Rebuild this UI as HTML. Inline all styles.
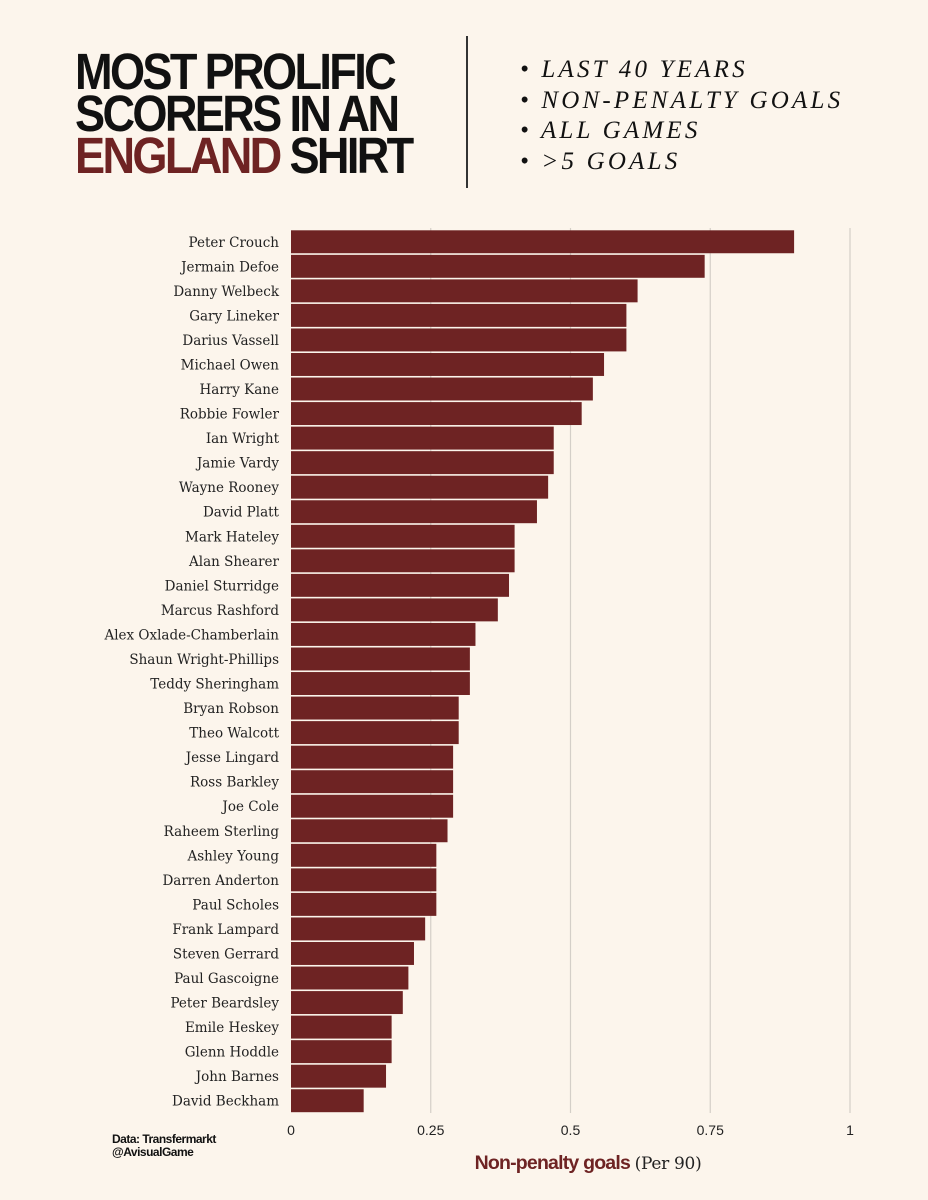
<!DOCTYPE html>
<html><head><meta charset="utf-8"><style>
body{margin:0;background:#fcf5ec;width:928px;height:1200px;overflow:hidden;position:relative;font-family:"Liberation Serif",serif}
.t{position:absolute;left:75px;top:51px;font-family:"Liberation Sans",sans-serif;font-weight:bold;font-size:51px;line-height:42px;letter-spacing:-3px;color:#111;transform:scaleX(0.885);transform-origin:left top}
.t span{color:#6e2323}
.div{position:absolute;left:466px;top:36px;width:2px;height:152px;background:#333}
.bl{position:absolute;left:520px;top:55px;font-family:"Liberation Serif",serif;font-style:italic;font-size:25px;line-height:30.5px;letter-spacing:3.2px;color:#111}
.src{position:absolute;left:112px;top:1133px;font-family:"Liberation Sans",sans-serif;font-weight:bold;font-size:12px;line-height:13px;letter-spacing:-0.5px;color:#111}
</style></head><body>
<div class="t">MOST PROLIFIC<br>SCORERS IN AN<br><span>ENGLAND</span> SHIRT</div>
<div class="div"></div>
<div class="bl">• LAST 40 YEARS<br>• NON-PENALTY GOALS<br>• ALL GAMES<br>• &gt;5 GOALS</div>
<div class="src">Data: Transfermarkt<br>@AvisualGame</div>
<svg id="c" width="928" height="1200" style="position:absolute;left:0;top:0"></svg>
<script>
const players=["Peter Crouch","Jermain Defoe","Danny Welbeck","Gary Lineker","Darius Vassell","Michael Owen","Harry Kane","Robbie Fowler","Ian Wright","Jamie Vardy","Wayne Rooney","David Platt","Mark Hateley","Alan Shearer","Daniel Sturridge","Marcus Rashford","Alex Oxlade-Chamberlain","Shaun Wright-Phillips","Teddy Sheringham","Bryan Robson","Theo Walcott","Jesse Lingard","Ross Barkley","Joe Cole","Raheem Sterling","Ashley Young","Darren Anderton","Paul Scholes","Frank Lampard","Steven Gerrard","Paul Gascoigne","Peter Beardsley","Emile Heskey","Glenn Hoddle","John Barnes","David Beckham"];
const values=[0.90,0.74,0.62,0.60,0.60,0.56,0.54,0.52,0.47,0.47,0.46,0.44,0.40,0.40,0.39,0.37,0.33,0.32,0.32,0.30,0.30,0.29,0.29,0.29,0.28,0.26,0.26,0.26,0.24,0.22,0.21,0.20,0.18,0.18,0.17,0.13];
const ticks=[0,0.25,0.5,0.75,1];
const tickLabels=["0","0.25","0.5","0.75","1"];
const svg=document.getElementById('c');const NS='http://www.w3.org/2000/svg';
const x0=291,x1=850,yTop=229.5,yBot=1113;
const xs=v=>x0+(x1-x0)*v;
const step=(yBot-yTop)/players.length;
const ys=i=>yTop+i*step;
function mk(t,a){const e=document.createElementNS(NS,t);for(const k in a)e.setAttribute(k,a[k]);svg.appendChild(e);return e;}
ticks.forEach((t,i)=>{
 if(t>0){const g=mk('line',{x1:xs(t),x2:xs(t),y1:228,y2:yBot,stroke:'#d4cfc8','stroke-width':1.2});
 
 }
 const l=mk('text',{x:xs(t),y:1135,'text-anchor':'middle','font-family':'Liberation Sans, sans-serif','font-size':14,fill:'#222'});
 l.textContent=tickLabels[i];
 
 
});
players.forEach((p,i)=>{
 const r=mk('rect',{x:x0,y:ys(i)+0.8,width:xs(values[i])-x0,height:step-1.6,fill:'#6e2323'});
 
 
 const t=mk('text',{x:279,y:ys(i)+step/2+5,'text-anchor':'end','font-family':'DejaVu Serif, serif','font-size':13.5,fill:'#222'});
 t.textContent=p;
 
 
});
const at=mk('text',{x:588,y:1169,'text-anchor':'middle','font-family':'Liberation Sans, sans-serif','font-size':19.5,fill:'#6e2323','font-weight':'bold','letter-spacing':'-0.8'});
at.innerHTML='Non-penalty goals <tspan fill="#222" font-weight="normal" font-size="17" font-family="DejaVu Serif, serif" letter-spacing="-0.3"> (Per 90)</tspan>';


</script>
</body></html>
